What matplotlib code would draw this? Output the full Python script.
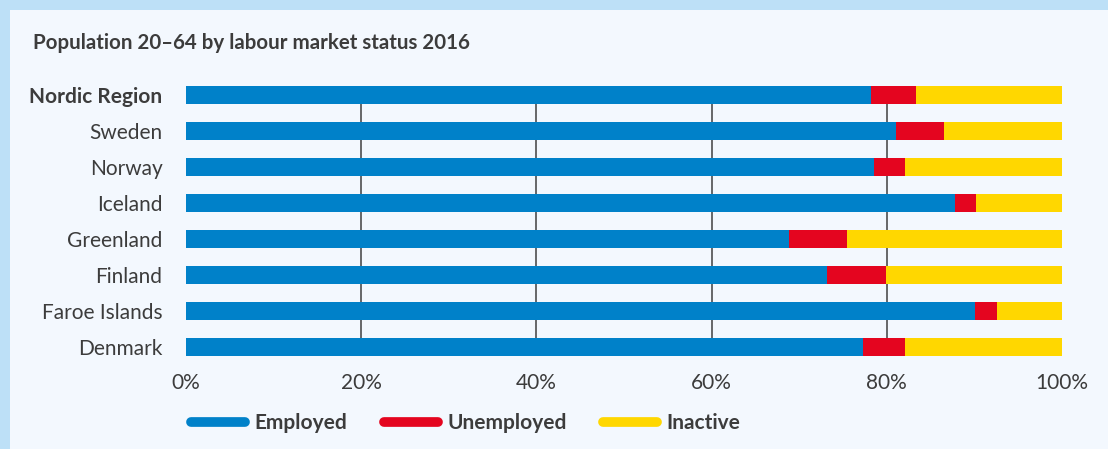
import matplotlib.pyplot as plt
from matplotlib.lines import Line2D
from matplotlib.patches import Rectangle
import numpy as np

plt.rcParams['font.family'] = ['Lato', 'DejaVu Sans']

countries = ['Nordic Region', 'Sweden', 'Norway', 'Iceland', 'Greenland',
             'Finland', 'Faroe Islands', 'Denmark']
employed = [78.2, 81.1, 78.5, 87.8, 68.8, 73.2, 90.1, 77.3]
unemployed = [5.1, 5.4, 3.6, 2.4, 6.7, 6.7, 2.5, 4.8]
inactive = [16.7, 13.5, 17.9, 9.8, 24.5, 20.1, 7.4, 17.9]

series = ['Employed', 'Unemployed', 'Inactive']
colors = ['#0081c9', '#e4051f', '#ffd700']
xticks = [0, 20, 40, 60, 80, 100]

text_col = '#3c3c3c'

fig = plt.figure(figsize=(11.08, 4.49), dpi=100)
fig.patch.set_facecolor('#bde0f7')
fig.add_artist(Rectangle((10 / 1108, 0), 1, 1 - 10 / 449, transform=fig.transFigure,
                         facecolor='#f3f8fe', edgecolor='none', zorder=0))

ax = fig.add_axes([186 / 1108, 1 - 356 / 449, 876 / 1108, 270 / 449])
ax.set_facecolor('none')

y = np.arange(len(countries))
left = np.zeros(len(countries))
for vals, col, name in zip([employed, unemployed, inactive], colors, series):
    ax.barh(y, vals, left=left, height=0.5, color=col, label=name, zorder=2)
    left += np.array(vals)

ax.set_ylim(len(countries) - 0.75, -0.25)
ax.set_xlim(0, 100)
for t in xticks[1:-1]:
    ax.axvline(t, color='#404040', lw=1.1, zorder=1)

for s in ax.spines.values():
    s.set_visible(False)
ax.set_xticks(xticks)
ax.set_xticklabels([f'{t}%' for t in xticks], fontsize=15, color=text_col)
ax.set_yticks(y)
ax.set_yticklabels(countries, fontsize=15, color=text_col)
ax.get_yticklabels()[0].set_fontweight('bold')
ax.tick_params(axis='both', length=0)
ax.tick_params(axis='x', pad=12)
ax.tick_params(axis='y', pad=17)

fig.text(33 / 1108, 1 - 43 / 449, 'Population 20–64 by labour market status 2016',
         fontsize=14.8, fontweight='bold', color=text_col, va='center', ha='left')

handles = [Line2D([], [], color=c, lw=7, solid_capstyle='round') for c in colors]
leg = fig.legend(handles, series, loc='center left',
                 bbox_to_anchor=(172 / 1108, 1 - 423 / 449), ncol=3, frameon=False,
                 handlelength=2.6, handletextpad=0.45, columnspacing=1.75,
                 prop={'size': 15, 'weight': 'bold'})
for t in leg.get_texts():
    t.set_color(text_col)

fig.savefig('out.png', dpi=100, facecolor=fig.get_facecolor())
